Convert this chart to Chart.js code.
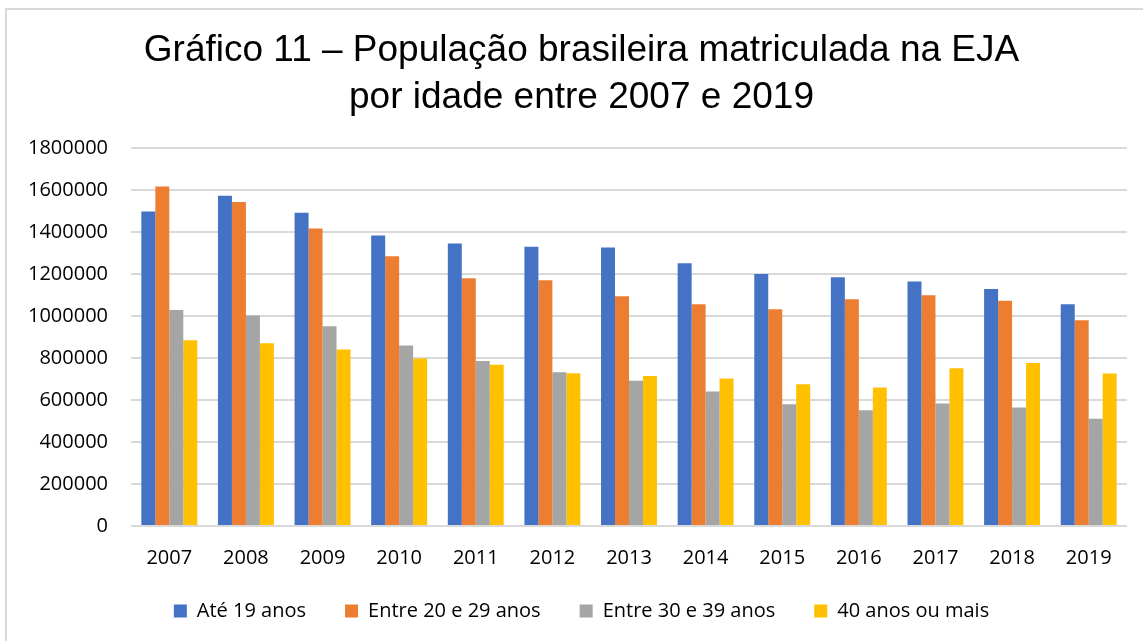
<!DOCTYPE html>
<html>
<head>
<meta charset="utf-8">
<script src="https://cdn.jsdelivr.net/npm/chart.js@4"></script>
<style>
  body { margin: 0; background: #fff; overflow: hidden; }
  #wrap { position: absolute; left: 5px; top: 8px; width: 1138px; height: 633px; border-top: 2px solid #d9d9d9; border-left: 2px solid #d9d9d9; box-sizing: border-box; }
  canvas { display: block; }
</style>
</head>
<body>
<div id="wrap"><canvas id="chartEja"></canvas></div>
<script>
const years = ['2007', '2008', '2009', '2010', '2011', '2012', '2013', '2014', '2015', '2016', '2017', '2018', '2019'];
const ate19 = [1498000, 1573000, 1492000, 1383000, 1345000, 1330000, 1326000, 1251000, 1200000, 1184000, 1164000, 1129000, 1056000];
const entre20e29 = [1616000, 1543000, 1416000, 1284000, 1180000, 1170000, 1094000, 1056000, 1032000, 1080000, 1099000, 1073000, 980000];
const entre30e39 = [1029000, 1002000, 951000, 859000, 786000, 732000, 692000, 641000, 580000, 551000, 583000, 564000, 511000];
const mais40 = [884000, 870000, 840000, 797000, 768000, 727000, 714000, 702000, 675000, 659000, 751000, 776000, 726000];

Chart.defaults.color = '#262626';
Chart.defaults.font.family = "'Liberation Sans', Arial, sans-serif";

const colors = {
    blue: '#4472c4',
    orange: '#ed7d31',
    gray: '#a5a5a5',
    yellow: '#ffc000',
    grid: '#d9d9d9'
};

const tickFont = { size: 20, family: "'Open Sans', sans-serif" };

// legend: wide gaps between items, but not that much empty height above them;
// title and legend sit a bit right of the canvas centre
const legendGap = 39;
const legendTrim = 28;
const centreShift = 29;
const layoutTweaks = {
    id: 'layoutTweaks',
    beforeLayout(chart) {
        const lg = chart.legend;
        if (lg && !lg.$trimmed) {
            const fit = lg.fit;
            lg.fit = function () {
                fit.call(this);
                this.height -= legendTrim;
            };
            lg.$trimmed = true;
        }
    },
    afterLayout(chart) {
        if (chart.legend) {
            chart.legend.top -= legendTrim;
            chart.legend.left += centreShift;
        }
        if (chart.titleBlock) chart.titleBlock.left += centreShift;
    }
};

const ctx = document.getElementById('chartEja').getContext('2d');
new Chart(ctx, {
    type: 'bar',
    data: {
        labels: years,
        datasets: [
            { label: 'Até 19 anos', data: ate19, backgroundColor: colors.blue },
            { label: 'Entre 20 e 29 anos', data: entre20e29, backgroundColor: colors.orange },
            { label: 'Entre 30 e 39 anos', data: entre30e39, backgroundColor: colors.gray },
            { label: '40 anos ou mais', data: mais40, backgroundColor: colors.yellow }
        ]
    },
    plugins: [layoutTweaks],
    options: {
        responsive: true,
        maintainAspectRatio: false,
        animation: false,
        categoryPercentage: 0.73,
        barPercentage: 1,
        layout: { padding: { left: 0, right: 16, top: 10, bottom: 10 } },
        plugins: {
            title: {
                display: true,
                text: ['Gráfico 11 \u2013 População brasileira matriculada na EJA', 'por idade entre 2007 e 2019'],
                font: { size: 37, weight: 'normal', lineHeight: 1.27 },
                color: '#000',
                padding: { top: 7, bottom: 27 }
            },
            legend: {
                position: 'bottom',
                labels: {
                    boxWidth: 13,
                    boxHeight: 13,
                    padding: legendGap,
                    font: tickFont,
                    color: '#000'
                }
            },
            tooltip: { enabled: false }
        },
        scales: {
            x: {
                grid: { display: false, drawTicks: false },
                border: { display: false },
                ticks: { font: tickFont, color: '#000', padding: 20 }
            },
            y: {
                min: 0,
                max: 1800000,
                grid: { color: colors.grid, lineWidth: 2, drawTicks: false },
                border: { display: false },
                afterFit: scale => { scale.width = 124; },
                ticks: {
                    stepSize: 200000,
                    padding: 23,
                    font: tickFont,
                    color: '#000',
                    callback: v => String(v)
                }
            }
        }
    }
});
</script>
</body>
</html>
